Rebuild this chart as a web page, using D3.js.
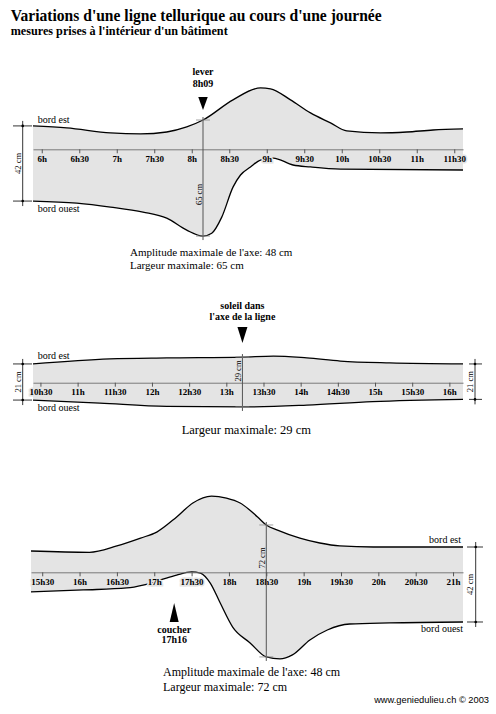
<!DOCTYPE html>
<html>
<head>
<meta charset="utf-8">
<script src="https://cdn.jsdelivr.net/npm/d3@7"></script>
<style>
body { margin: 0; background: #fff; }
</style>
</head>
<body>
<div id="chart"></div>
<script>
// temps en minutes depuis minuit, bords en cm mesurés depuis l'axe (+ = est, - = ouest)
var matinTicks = ['6h', '6h30', '7h', '7h30', '8h', '8h30', '9h', '9h30', '10h', '10h30', '11h', '11h30'];
var matinEstT = [353, 380, 415, 439, 460, 476, 489, 513, 535, 543, 559, 575, 591, 604, 631, 652, 673, 697];
var matinEstCm = [13.1, 12.0, 9.2, 8.6, 9.7, 12.5, 16.4, 27.7, 34.4, 33.9, 27.7, 20.4, 14.8, 10.3, 9.2, 9.7, 10.8, 11.4];
var matinOuestT = [353, 388, 415, 441, 460, 476, 489, 496, 504, 513, 519, 527, 535, 545, 561, 575, 599, 697];
var matinOuestCm = [-29.0, -30.2, -32.4, -35.2, -38.6, -45.3, -48.6, -47.0, -38.0, -21.2, -14.4, -9.9, -6.0, -4.9, -8.8, -9.9, -11.1, -11.6];

var midiTicks = ['10h30', '11h', '11h30', '12h', '12h30', '13h', '13h30', '14h', '14h30', '15h', '15h30', '16h'];
var midiEstT = [624, 686, 732, 793, 818, 845, 872, 912, 971];
var midiEstCm = [10.9, 13.8, 14.4, 14.9, 15.5, 14.4, 12.6, 11.5, 10.9];
var midiOuestT = [624, 678, 732, 793, 845, 898, 971];
var midiOuestCm = [-10.1, -11.9, -13.8, -14.1, -13.0, -11.0, -9.7];

var soirTicks = ['15h30', '16h', '16h30', '17h', '17h30', '18h', '18h30', '19h', '19h30', '20h', '20h30', '21h'];
var soirEstT = [921, 968, 990, 1009, 1022, 1038, 1051, 1066, 1078, 1089, 1103, 1110, 1119, 1137, 1153, 1169, 1196, 1268];
var soirEstCm = [11.7, 11.0, 14.5, 18.8, 22.1, 30.4, 38.1, 41.9, 40.8, 38.1, 30.4, 26.0, 23.2, 18.8, 16.1, 14.5, 13.9, 13.9];
var soirOuestT = [921, 963, 998, 1011, 1025, 1038, 1050, 1057, 1065, 1073, 1083, 1097, 1110, 1121, 1131, 1145, 1159, 1177, 1209, 1268];
var soirOuestCm = [-10.8, -9.7, -8.6, -7.0, -4.2, -1.5, 0.2, -0.4, -5.9, -16.9, -30.1, -38.8, -46.5, -47.6, -45.4, -37.2, -31.7, -28.4, -27.8, -27.3];

var lever = 489, soleilAxe = 793, mesureSoir = 1110, coucher = 1036;

var fill = '#e4e4e4';
var serif = '"Liberation Serif", "Times New Roman", serif';
var svg = d3.select('#chart').append('svg')
  .attr('width', 496)
  .attr('height', 714)
  .style('font-family', serif);

function minutes(lbl) {
  var p = lbl.split('h');
  return +p[0] * 60 + (p[1] ? +p[1] : 0);
}

function pairs(ts, vs) {
  return ts.map(function(t, i) { return [t, vs[i]]; });
}

function drawPanel(p) {
  var x = d3.scaleLinear().domain([p.t0, p.t1]).range([p.x0, 463]);
  var y = d3.scaleLinear().domain([0, 10]).range([p.axisY, p.axisY - 10 * p.k]);
  var est = pairs(p.estT, p.estCm);
  var ouest = pairs(p.ouestT, p.ouestCm);

  var area = d3.area()
    .x(function(d) { return x(d[0]); })
    .y0(y(0))
    .y1(function(d) { return y(d[1]); })
    .curve(d3.curveMonotoneX);
  var line = d3.line()
    .x(function(d) { return x(d[0]); })
    .y(function(d) { return y(d[1]); })
    .curve(d3.curveMonotoneX);

  svg.append('path').datum(est).attr('d', area).attr('fill', fill);
  svg.append('path').datum(ouest).attr('d', area).attr('fill', fill);

  [est, ouest].forEach(function(s) {
    svg.append('path').datum(s).attr('d', line)
      .attr('fill', 'none').attr('stroke', '#000').attr('stroke-width', 1.3);
  });

  var axis = d3.axisBottom(x)
    .tickValues(p.ticks.map(minutes))
    .tickFormat(function(d, i) { return p.ticks[i]; })
    .tickSize(4)
    .tickSizeOuter(0)
    .tickPadding(2);
  var ax = svg.append('g')
    .attr('transform', 'translate(0,' + p.axisY + ')')
    .call(axis);
  ax.attr('font-family', serif);
  ax.select('.domain').attr('stroke', '#777');
  ax.selectAll('.tick line').attr('stroke', '#555');
  ax.selectAll('.tick text')
    .attr('font-size', 9)
    .attr('font-weight', 'bold')
    .attr('fill', '#000')
    .attr('stroke', fill)
    .attr('stroke-width', 3)
    .attr('paint-order', 'stroke');

  return { x: x, y: y };
}

// cote verticale (largeur aux extrémités)
function cote(xl, yTop, yBot, xa, xb, label, tx) {
  svg.append('line').attr('x1', xl).attr('x2', xl).attr('y1', yTop - 5).attr('y2', yBot + 5)
    .attr('stroke', '#000').attr('stroke-width', 0.8);
  [yTop, yBot].forEach(function(v) {
    svg.append('line').attr('x1', xa).attr('x2', xb).attr('y1', v).attr('y2', v)
      .attr('stroke', '#000').attr('stroke-width', 0.8);
    svg.append('circle').attr('cx', xl).attr('cy', v).attr('r', 1.3).attr('fill', '#000');
  });
  svg.append('text')
    .attr('transform', 'translate(' + tx + ',' + ((yTop + yBot) / 2) + ') rotate(-90)')
    .attr('text-anchor', 'middle')
    .attr('font-size', 8.5)
    .text(label);
}

// mesure de largeur maximale
function mesure(xl, yTop, yBot, label, ty) {
  svg.append('line').attr('x1', xl).attr('x2', xl).attr('y1', yTop - 3).attr('y2', yBot + 4)
    .attr('stroke', '#555').attr('stroke-width', 1);
  [yTop, yBot].forEach(function(v) {
    svg.append('line').attr('x1', xl - 7).attr('x2', xl + 7).attr('y1', v).attr('y2', v)
      .attr('stroke', '#888').attr('stroke-width', 0.8);
  });
  svg.append('text')
    .attr('transform', 'translate(' + (xl - 1.5) + ',' + ty + ') rotate(-90)')
    .attr('text-anchor', 'middle')
    .attr('font-size', 8.5)
    .text(label);
}

function triangle(cx, yBase, yTip, w) {
  svg.append('path')
    .attr('d', 'M' + (cx - w / 2) + ',' + yBase + 'L' + (cx + w / 2) + ',' + yBase + 'L' + cx + ',' + yTip + 'Z')
    .attr('fill', '#000');
}

function txt(x, y, s, size, opts) {
  opts = opts || {};
  return svg.append('text')
    .attr('x', x).attr('y', y)
    .attr('font-size', size)
    .attr('font-weight', opts.bold ? 'bold' : null)
    .attr('text-anchor', opts.anchor || 'start')
    .text(s);
}

// titre
txt(10.7, 20.7, "Variations d'une ligne tellurique au cours d'une journée", 16.5, { bold: true })
  .attr('textLength', 371).attr('lengthAdjust', 'spacingAndGlyphs');
txt(10.7, 34.6, "mesures prises à l'intérieur d'un bâtiment", 11.5, { bold: true })
  .attr('textLength', 217).attr('lengthAdjust', 'spacingAndGlyphs');

// matin
var p1 = drawPanel({ estT: matinEstT, estCm: matinEstCm, ouestT: matinOuestT, ouestCm: matinOuestCm,
  ticks: matinTicks, t0: 353, t1: 697, x0: 33, axisY: 149.3, k: 1.785 });
txt(37.7, 122.7, 'bord est', 10);
txt(37.7, 211.7, 'bord ouest', 10);
cote(22.7, p1.y(matinEstCm[0]), p1.y(matinOuestCm[0]), 13, 32, '42 cm', 20.5);
var iL = matinEstT.indexOf(lever), jL = matinOuestT.indexOf(lever);
mesure(p1.x(lever), p1.y(matinEstCm[iL]), p1.y(matinOuestCm[jL]), '65 cm', 194.5);
triangle(p1.x(lever), 97, 110, 9.5);
txt(p1.x(lever), 75, 'lever', 10, { bold: true, anchor: 'middle' });
txt(p1.x(lever), 86.5, '8h09', 10, { bold: true, anchor: 'middle' });
txt(130, 256, "Amplitude maximale de l'axe: 48 cm", 11);
txt(130, 268.5, 'Largeur maximale: 65 cm', 11);

// midi
var p2 = drawPanel({ estT: midiEstT, estCm: midiEstCm, ouestT: midiOuestT, ouestCm: midiOuestCm,
  ticks: midiTicks, t0: 624, t1: 971, x0: 33, axisY: 382.7, k: 1.72 });
txt(37.7, 359, 'bord est', 10);
txt(37.7, 411, 'bord ouest', 10);
cote(22.7, p2.y(midiEstCm[0]), p2.y(midiOuestCm[0]), 13, 32, '21 cm', 20.5);
cote(475, p2.y(midiEstCm[midiEstCm.length - 1]), p2.y(midiOuestCm[midiOuestCm.length - 1]), 469, 482, '21 cm', 472.5);
var iS = midiEstT.indexOf(soleilAxe), jS = midiOuestT.indexOf(soleilAxe);
mesure(p2.x(soleilAxe), p2.y(midiEstCm[iS]), p2.y(midiOuestCm[jS]), '29 cm', 371);
triangle(p2.x(soleilAxe), 327, 343, 10);
txt(p2.x(soleilAxe), 309.3, 'soleil dans', 10, { bold: true, anchor: 'middle' });
txt(p2.x(soleilAxe), 319.5, "l'axe de la ligne", 10, { bold: true, anchor: 'middle' });
txt(181.7, 433.5, 'Largeur maximale: 29 cm', 12.5);

// soir
var p3 = drawPanel({ estT: soirEstT, estCm: soirEstCm, ouestT: soirOuestT, ouestCm: soirOuestCm,
  ticks: soirTicks, t0: 921, t1: 1268, x0: 31, axisY: 572.3, k: 1.82 });
txt(461, 542.7, 'bord est', 10, { anchor: 'end' });
txt(463, 631.7, 'bord ouest', 10, { anchor: 'end' });
cote(475.7, p3.y(soirEstCm[soirEstCm.length - 1]), p3.y(soirOuestCm[soirOuestCm.length - 1]), 467, 483, '42 cm', 472.5);
var iM = soirEstT.indexOf(mesureSoir), jM = soirOuestT.indexOf(mesureSoir);
mesure(p3.x(mesureSoir), p3.y(soirEstCm[iM]), p3.y(soirOuestCm[jM]), '72 cm', 558);
triangle(p3.x(coucher), 622, 603, 9);
txt(p3.x(coucher), 633.3, 'coucher', 10, { bold: true, anchor: 'middle' });
txt(p3.x(coucher), 643.3, '17h16', 10, { bold: true, anchor: 'middle' });
txt(163, 676, "Amplitude maximale de l'axe: 48 cm", 12);
txt(163, 691, 'Largeur maximale: 72 cm', 12);

svg.append('text')
  .attr('x', 489).attr('y', 703)
  .attr('text-anchor', 'end')
  .style('font-family', '"Liberation Sans", Arial, sans-serif')
  .attr('font-size', 9.3)
  .text('www.geniedulieu.ch © 2003');
</script>
</body>
</html>
